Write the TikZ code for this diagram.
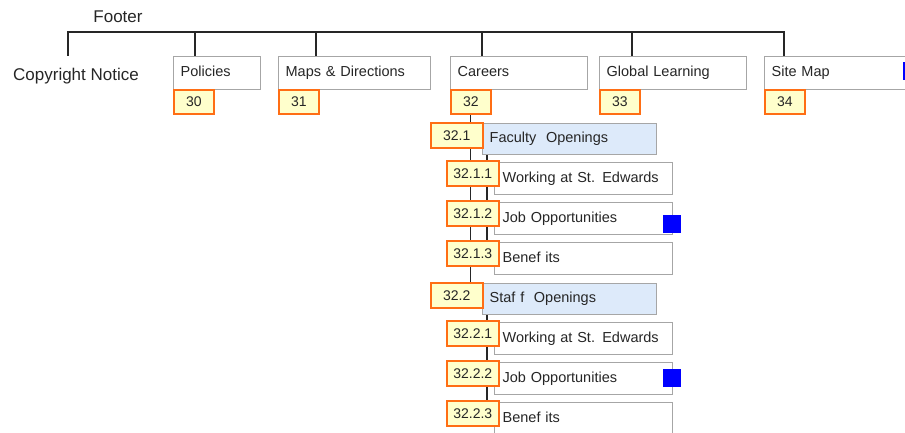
\documentclass[tikz,border=0pt]{standalone}
\usepackage{fontspec}
\setmainfont{Liberation Sans}
\usetikzlibrary{positioning,backgrounds}
\definecolor{boxgray}{RGB}{166,166,166}
\definecolor{numorange}{RGB}{255,110,20}
\definecolor{numfill}{RGB}{255,255,204}
\definecolor{grpfill}{RGB}{221,234,250}
\definecolor{flagblue}{RGB}{0,0,255}
\tikzset{
  tree/.style={draw=black!85, line width=1.3pt},
  pagebox/.style={draw=boxgray, line width=1.3pt, fill=white, anchor=north west,
    minimum height=33pt, inner xsep=7pt, inner ysep=0pt, align=left, text width=#1,
    text height=10.5pt, text depth=3pt,
    font=\fontsize{14.5}{16}\selectfont},
  grpbox/.style={pagebox=160pt, fill=grpfill, minimum height=31pt},
  itembox/.style={pagebox=162pt, inner xsep=8pt, minimum height=32pt},
  numbox/.style={draw=numorange, fill=numfill, line width=1.6pt, anchor=north west,
    minimum width=40pt, minimum height=24pt, inner sep=0pt,
    font=\fontsize{14}{16}\selectfont},
  subnum/.style={numbox, minimum width=52pt, minimum height=25pt},
  flag/.style={fill=flagblue, minimum size=18pt, inner sep=0pt},
  title/.style={font=\fontsize{17}{19}\selectfont, inner sep=0pt},
}
\begin{document}
\begin{tikzpicture}[x=1pt,y=-1pt,text=black!85]
  \useasboundingbox (0,0) rectangle (905,433);

  % footer level
  \node[title] (footer) at (118,17) {Footer};
  \node[title] (copy) at (76,76) {Copyright Notice};
  \coordinate (bar) at (0,32);
  \coordinate (dcopy) at (68,56);

  \foreach \nm/\x/\w/\dx/\t/\num in {
    pol/173/73/22/Policies/30,
    map/278/138/38/Maps \& Directions/31,
    car/450/123/32/Careers/32,
    glob/599/133/33/Global Learning/33,
    site/764/160/20/Site Map/34}{
    \node[pagebox=\w pt] (\nm) at (\x,56) {\t};
    \node[numbox] (n\num) at (\x,89) {\num};
    \coordinate (d\nm) at ([xshift=\dx pt]\nm.north west);
  }
  \node[flag] (f0) at (912,71.5) {};

  % careers sub pages
  \foreach \g/\y/\grp in {1/123/Faculty\ \ Openings, 2/283/Staf f\ \ Openings}{
    \node[grpbox] (g\g) at (482,\y) {\grp};
    \node[subnum] (n\g) at (430,{\y-1}) {32.\g};
    \coordinate (s\g) at ([xshift=5pt]g\g.south west);
    \foreach \k/\t in {1/Working at St. Edwards, 2/Job Opportunities, 3/Benef its}{
      \node[itembox] (i\g\k) at (494,{\y+39+40*(\k-1)}) {\t};
      \node[subnum] (m\g\k) at (446,{\y+37+40*(\k-1)}) {32.\g.\k};
    }
  }
  \node[flag] (f1) at (672,224) {};
  \node[flag] (f2) at (672,378) {};

  \begin{scope}[on background layer]
    \draw[tree] (dcopy) -- (dcopy |- bar) -- (dsite |- bar) -- (dsite);
    \foreach \d in {dpol,dmap,dcar,dglob}
      \draw[tree] (\d) -- (\d |- bar);
    \draw[tree] (n32.south) -- (n32.south |- n2.north);
    \foreach \g in {1,2}
      \draw[tree] (s\g) -- (s\g |- m\g3);
  \end{scope}
\end{tikzpicture}
\end{document}
